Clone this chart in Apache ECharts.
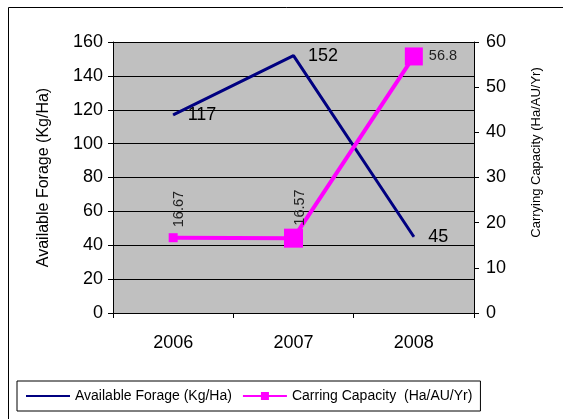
<!DOCTYPE html>
<html>
<head>
<meta charset="utf-8">
<script src="https://cdn.jsdelivr.net/npm/echarts@6/dist/echarts.min.js"></script>
<style>
  html, body { margin: 0; padding: 0; background: #fff; }
  #chart { width: 563px; height: 419px; }
</style>
</head>
<body>
<div id="chart"></div>
<script>
// 数据
const years = ['2006', '2007', '2008']
const forage = [117, 152, 45]
const capacity = [16.67, 16.57, 56.8]
const capacityLabels = ['16.67', '16.57', '56.8']
const capacityMarkSize = [9, 19, 18]

const myChart = echarts.init(document.getElementById('chart'))
const font = 'Liberation Sans, Arial, sans-serif'

myChart.setOption({
  animation: false,
  backgroundColor: '#fff',
  graphic: [{
    type: 'rect',
    shape: { x: 8.5, y: 7.5, width: 600, height: 500 },
    style: { fill: 'none', stroke: '#000', lineWidth: 1 },
    z: -1
  }],
  grid: {
    left: 113,
    top: 42,
    width: 361,
    height: 271,
    show: true,
    backgroundColor: '#c0c0c0',
    borderWidth: 0
  },
  legend: {
    left: 17,
    top: 381,
    width: 478,
    height: 34,
    padding: [8, 8, 8, 8],
    borderColor: '#000',
    borderWidth: 1,
    itemWidth: 44,
    itemHeight: 10,
    itemGap: 10,
    textStyle: { fontFamily: font, fontSize: 14, color: '#000' },
    data: [
      { name: 'Available Forage (Kg/Ha)', itemStyle: { opacity: 0 } },
      { name: 'Carring Capacity  (Ha/AU/Yr)' }
    ]
  },
  xAxis: {
    type: 'category',
    data: years,
    boundaryGap: true,
    axisLine: { lineStyle: { color: '#000', width: 1 } },
    axisTick: { show: true, length: 5, lineStyle: { color: '#000' } },
    axisLabel: { fontFamily: font, fontSize: 18, color: '#000', margin: 21 },
    splitLine: { show: false }
  },
  yAxis: [
    {
      type: 'value',
      min: 0,
      max: 160,
      interval: 20,
      name: 'Available Forage (Kg/Ha)',
      nameLocation: 'middle',
      nameGap: 61,
      nameTextStyle: { fontFamily: font, fontSize: 16, color: '#000' },
      axisLine: { show: true, lineStyle: { color: '#000' } },
      axisTick: { show: true, length: 5, lineStyle: { color: '#000' } },
      axisLabel: { fontFamily: font, fontSize: 18, color: '#000', margin: 10 },
      splitLine: { show: true, lineStyle: { color: '#000', width: 1 } }
    },
    {
      type: 'value',
      min: 0,
      max: 60,
      interval: 10,
      position: 'right',
      name: 'Carrying Capacity (Ha/AU/Yr)',
      nameLocation: 'middle',
      nameGap: 56,
      nameTextStyle: { fontFamily: font, fontSize: 13, color: '#000', padding: [0, 0, 0, 50] },
      axisLine: { show: true, lineStyle: { color: '#000' } },
      axisTick: { show: true, length: 5, lineStyle: { color: '#000' } },
      axisLabel: { fontFamily: font, fontSize: 18, color: '#000', margin: 12 },
      splitLine: { show: false }
    }
  ],
  series: [
    {
      name: 'Available Forage (Kg/Ha)',
      type: 'line',
      yAxisIndex: 0,
      data: forage,
      symbol: 'circle',
      symbolSize: 1,
      lineStyle: { color: '#000080', width: 3 },
      itemStyle: { color: '#000080' },
      label: {
        show: true,
        position: 'right',
        distance: 14,
        fontFamily: font,
        fontSize: 18,
        color: '#000'
      }
    },
    {
      name: 'Carring Capacity  (Ha/AU/Yr)',
      type: 'line',
      yAxisIndex: 1,
      data: capacity.map(function(v, i) {
        const item = { value: v, symbolSize: capacityMarkSize[i] }
        if (i < 2) {
          item.label = { position: 'top', rotate: 90, distance: i === 0 ? 6 : 3, align: 'left', verticalAlign: 'middle', offset: [0, 6] }
        } else {
          item.label = { position: 'right', distance: 6 }
        }
        return item
      }),
      symbol: 'rect',
      lineStyle: { color: '#ff00ff', width: 4 },
      itemStyle: { color: '#ff00ff' },
      label: {
        show: true,
        fontFamily: font,
        fontSize: 14.5,
        color: '#222',
        formatter: function(p) { return capacityLabels[p.dataIndex] }
      }
    }
  ]
})
window.addEventListener('resize', function() {
  myChart.resize()
})
</script>
</body>
</html>
